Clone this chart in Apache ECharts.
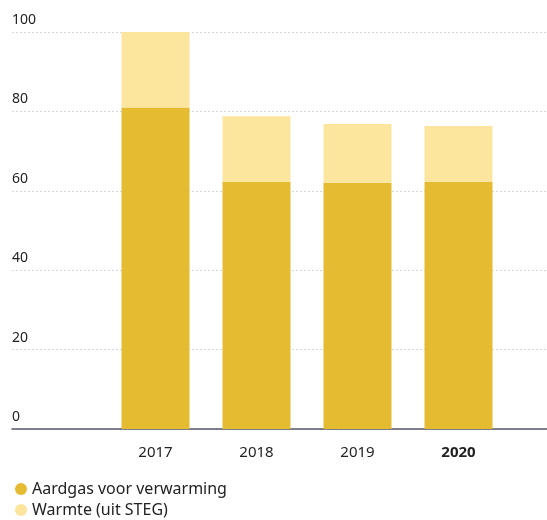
<!DOCTYPE html>
<html>
<head>
<meta charset="utf-8">
<script src="https://cdn.jsdelivr.net/npm/echarts@6/dist/echarts.min.js"></script>
<style>
	html, body { margin: 0; padding: 0; background: #fff; }
	#chart { width: 547px; height: 520px; }
</style>
</head>
<body>
<div id="chart"></div>
<script type="text/javascript">
	// data
	var years = ['2017', '2018', '2019', '2020'];
	var aardgas = [81, 62.2, 62, 62.3];
	var warmte = [19, 16.6, 14.8, 14];
	var yTicks = [0, 20, 40, 60, 80, 100];

	var chart = echarts.init(document.getElementById('chart'), null, { renderer: 'canvas' });

	var font = '"Noto Sans", sans-serif';

	chart.setOption({
		animation: false,
		textStyle: { fontFamily: font },
		legend: {
			orient: 'vertical',
			left: 10,
			bottom: -3,
			icon: 'circle',
			itemWidth: 12,
			itemHeight: 12,
			itemGap: 5,
			textStyle: { fontSize: 16, color: '#222', fontFamily: font },
			data: ['Aardgas voor verwarming', 'Warmte (uit STEG)']
		},
		grid: [
			// full width grid for the lines
			{ left: 12, right: 0, top: 32, bottom: 91 },
			// narrower grid for the bars
			{ left: 105, right: 38, top: 32, bottom: 91 }
		],
		xAxis: [{
			gridIndex: 0,
			type: 'value',
			min: 0,
			max: 1,
			axisLine: { show: true, onZero: false, lineStyle: { color: '#555a66', width: 1.5 } },
			axisTick: { show: false },
			axisLabel: { show: false },
			splitLine: { show: false }
		}, {
			gridIndex: 1,
			type: 'category',
			data: years,
			axisLine: { show: false },
			axisTick: { show: false },
			axisLabel: {
				margin: 16,
				fontSize: 15,
				color: '#222',
				fontFamily: font,
				formatter: function(v) {
					return v === '2020' ? '{b|' + v + '}' : v;
				},
				rich: { b: { fontWeight: 'bold', fontSize: 15, color: '#222', fontFamily: font } }
			}
		}],
		yAxis: [{
			gridIndex: 0,
			type: 'value',
			min: yTicks[0],
			max: yTicks[yTicks.length - 1],
			interval: 20,
			axisLine: { show: false },
			axisTick: { show: false },
			axisLabel: {
				inside: true,
				margin: 0,
				verticalAlign: 'bottom',
				padding: [0, 0, 5, 0],
				fontSize: 14,
				color: '#222',
				fontFamily: font
			},
			splitLine: {
				show: true,
				lineStyle: { color: '#d3d7e0', width: 1, type: [2, 2] }
			}
		}, {
			gridIndex: 1,
			type: 'value',
			min: 0,
			max: 100,
			interval: 20,
			show: false
		}],
		series: [{
			name: 'Aardgas voor verwarming',
			type: 'bar',
			stack: 'totaal',
			xAxisIndex: 1,
			yAxisIndex: 1,
			barWidth: 68,
			itemStyle: { color: '#e5bb32' },
			data: aardgas
		}, {
			name: 'Warmte (uit STEG)',
			type: 'bar',
			stack: 'totaal',
			xAxisIndex: 1,
			yAxisIndex: 1,
			barWidth: 68,
			itemStyle: { color: '#fce59c' },
			data: warmte
		}]
	});
</script>
</body>
</html>
